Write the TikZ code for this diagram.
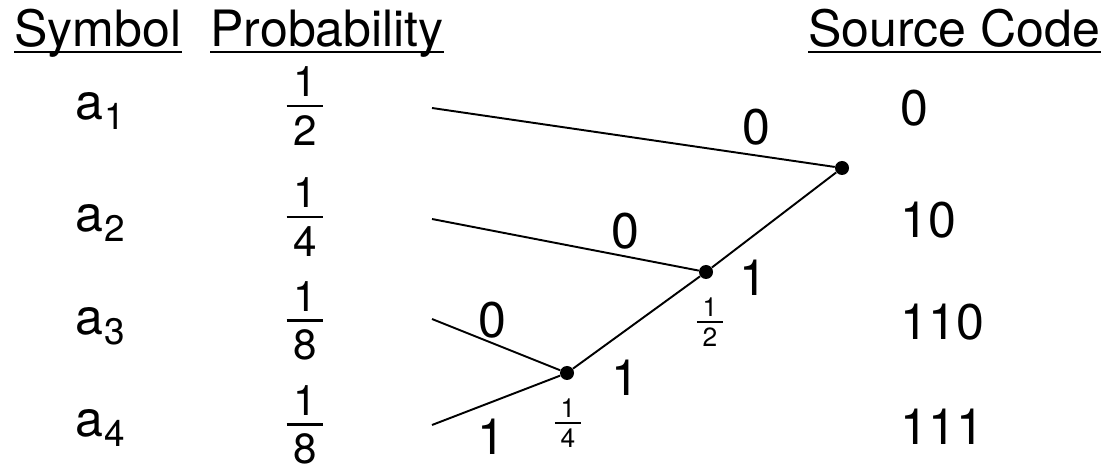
\documentclass[tikz,border=0pt]{standalone}
\usepackage{fontspec}
\setmainfont{TeX Gyre Heros}
\usetikzlibrary{positioning}

% stacked fraction: bar width, bar thickness, gap, numerator, denominator
\newcommand{\stackfrac}[5]{\vbox{\offinterlineskip\halign{\hfil##\hfil\cr#4\cr\noalign{\kern#3}\rule{#1}{#2}\cr\noalign{\kern#3}#5\cr}}}
\newcommand{\asym}[1]{a\kern1pt\raisebox{-5.5pt}{\fontsize{21}{24}\selectfont #1}}

\begin{document}
\begin{tikzpicture}[x=0.02cm, y=-0.02cm,
        txt/.style={inner sep=0pt, font=\fontsize{28.5}{34}\selectfont},
        head/.style={txt, anchor=base west},
        prob/.style={inner sep=0pt, font=\fontsize{24}{28}\selectfont},
        wt/.style={inner sep=0pt, font=\fontsize{15}{18}\selectfont},
        dot/.style={circle, fill, inner sep=0pt, minimum size=0.28cm},
        branch/.style={line width=1.1pt},
        uline/.style={line width=1.5pt}
    ]
    \useasboundingbox (0,0) rectangle (1109,465);

    % Headers
    \node[head] (hsym) at (14,47) {Symbol};
    \node[head] (hprob) at (210,47) {Probability};
    \node[head] (hcode) at (808,47) {Source Code};
    \foreach \h in {hsym, hprob, hcode}
        \draw[uline] ([yshift=-2.8pt]\h.base west) -- ([yshift=-2.8pt]\h.base east);

    % Symbols, probabilities and codes
    \foreach \i/\y in {1/120, 2/232, 3/335, 4/437}
        \node[txt, anchor=base west] (a\i) at (75,\y) {\asym{\i}};
    \foreach \i/\y/\d in {1/106/2, 2/217/4, 3/321/8, 4/425/8}
        \node[prob] (p\i) at (305,\y) {\stackfrac{21pt}{1.6pt}{4.5pt}{1}{\d}};
    \foreach \i/\y/\c in {1/108/0, 2/220/10, 3/322/110, 4/427/111}
        \node[txt, anchor=west] (c\i) at (900,\y) {\c};

    % Tree
    \foreach \i/\y in {1/108, 2/219, 3/319, 4/425}
        \coordinate (l\i) at (432,\y);
    \node[dot] (n1) at (842,168) {};
    \node[dot] (n2) at (706,272) {};
    \node[dot] (n3) at (567,373) {};

    \draw[branch] (l1) -- (n1);
    \draw[branch] (l2) -- (n2);
    \draw[branch] (n2) -- (n1);
    \draw[branch] (l3) -- (n3);
    \draw[branch] (l4) -- (n3);
    \draw[branch] (n3) -- (n2);

    % Branch labels
    \node[txt] (b1) at (756,127) {0};
    \node[txt] (b2) at (625,231) {0};
    \node[txt] (b3) at (753,278) {1};
    \node[txt] (b4) at (492,320) {0};
    \node[txt] (b5) at (625,378) {1};
    \node[txt] (b6) at (491,437) {1};
    \node[wt] (w2) at (710,322) {\stackfrac{15pt}{1.1pt}{2.5pt}{1}{2}};
    \node[wt] (w3) at (568,423) {\stackfrac{15pt}{1.1pt}{2.5pt}{1}{4}};

\end{tikzpicture}
\end{document}
